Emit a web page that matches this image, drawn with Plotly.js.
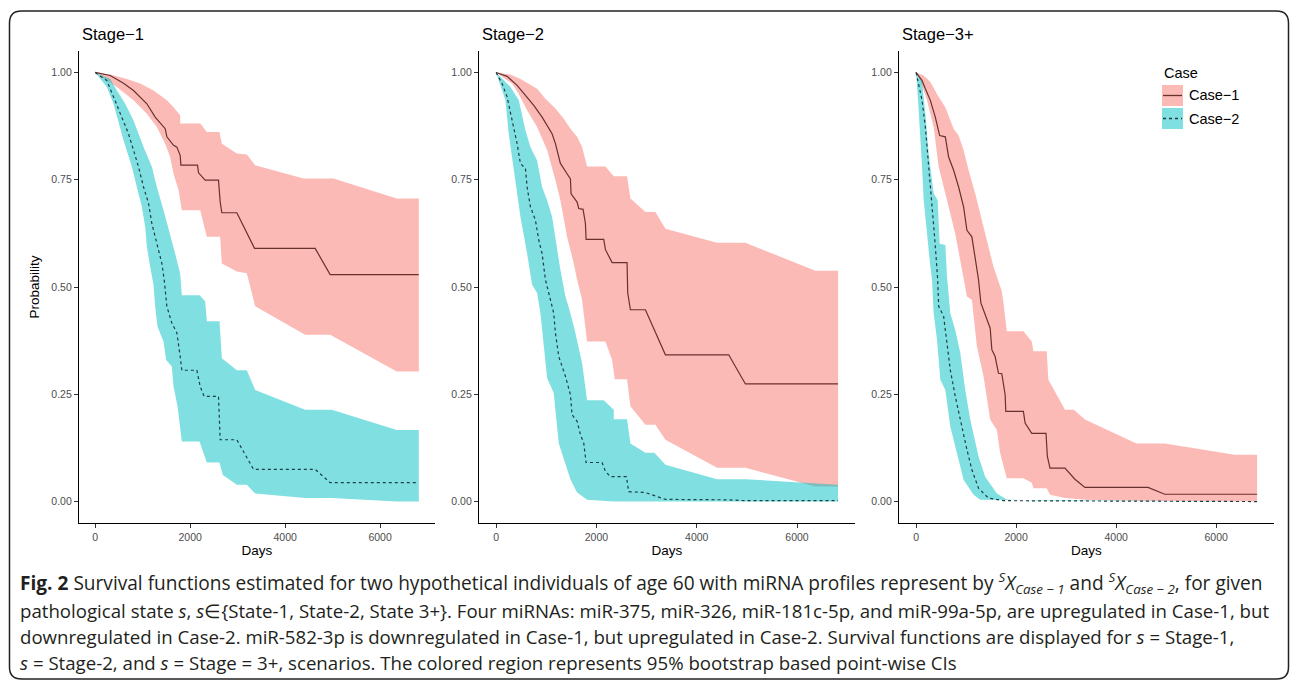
<!DOCTYPE html>
<html>
<head>
<meta charset="utf-8">
<script src="https://cdn.plot.ly/plotly-3.0.1.min.js"></script>
<style>html,body{margin:0;padding:0;background:#fff;}#chart{width:1290px;height:681px;}</style>
</head>
<body>
<div id="chart"></div>
<script>
// ---------------- DATA ----------------
const panelTitles = ["Stage\u22121", "Stage\u22122", "Stage\u22123+"];
const caseNames = ["Case\u22121", "Case\u22122"];
const xTicks = [0, 2000, 4000, 6000];
const yTicks = [0, 0.25, 0.5, 0.75, 1];

// Stage-1, Case-1
const s1c1Days = [0,316,597,807,1088,1263,1474,1509,1650,1720,1790,1804,2155,2176,2316,2597,2632,2667,2983,3355,4632,4948,6815];
const s1c1Surv = [1,0.993,0.975,0.958,0.927,0.896,0.869,0.85,0.83,0.826,0.807,0.784,0.784,0.766,0.749,0.749,0.698,0.673,0.673,0.59,0.59,0.529,0.529];
const s1c1UpDays = [0,316,667,948,1228,1509,1650,1790,1790,2211,2351,2618,2667,2983,3193,3369,4386,5018,6351,6815];
const s1c1Up = [1,0.995,0.985,0.974,0.958,0.935,0.919,0.9,0.881,0.881,0.861,0.861,0.834,0.811,0.809,0.784,0.753,0.753,0.706,0.706];
const s1c1LoDays = [0,456,807,1088,1298,1474,1579,1650,1755,1825,2211,2351,2632,2667,2983,3193,3334,3369,4421,4948,6351,6815];
const s1c1Lo = [1,0.966,0.935,0.904,0.873,0.834,0.803,0.764,0.726,0.679,0.679,0.617,0.617,0.555,0.536,0.532,0.47,0.455,0.389,0.389,0.303,0.303];

// Stage-1, Case-2
const s1c2Days = [0,246,386,526,702,807,912,1018,1123,1193,1298,1404,1453,1509,1614,1720,1790,1825,2141,2211,2295,2597,2632,2983,3334,4632,4948,6815];
const s1c2Surv = [1,0.981,0.943,0.904,0.857,0.819,0.78,0.733,0.695,0.648,0.602,0.555,0.517,0.455,0.416,0.393,0.338,0.306,0.306,0.268,0.245,0.245,0.144,0.144,0.075,0.075,0.044,0.044];
const s1c2UpDays = [0,316,456,632,807,1018,1193,1298,1439,1579,1684,1790,1825,2197,2316,2351,2618,2667,2983,3193,3369,4421,4983,6351,6815];
const s1c2Up = [1,0.985,0.958,0.927,0.888,0.826,0.78,0.733,0.679,0.624,0.578,0.531,0.481,0.481,0.467,0.42,0.42,0.334,0.306,0.306,0.26,0.214,0.214,0.167,0.167];
const s1c2LoDays = [0,246,386,491,597,772,877,983,1053,1088,1158,1228,1263,1312,1439,1495,1614,1650,1734,1825,2197,2351,2618,2688,2983,3193,3369,4421,4983,6351,6815];
const s1c2Lo = [1,0.966,0.927,0.888,0.842,0.78,0.733,0.687,0.64,0.594,0.547,0.505,0.455,0.408,0.373,0.33,0.315,0.268,0.222,0.14,0.14,0.091,0.091,0.062,0.039,0.039,0.019,0.008,0.008,0,0];

// Stage-2, Case-1
const s2c1Days = [0,219,419,585,751,917,1050,1116,1183,1282,1415,1482,1495,1615,1648,1734,1781,1794,2146,2180,2313,2611,2625,2678,2977,3376,4638,4971,6818];
const s2c1Surv = [1,0.991,0.97,0.947,0.923,0.896,0.869,0.857,0.834,0.788,0.764,0.752,0.717,0.698,0.683,0.681,0.648,0.611,0.611,0.587,0.557,0.557,0.486,0.447,0.447,0.342,0.342,0.274,0.274];
const s2c1UpDays = [0,286,485,684,817,983,1183,1349,1482,1615,1714,1814,2180,2346,2611,2678,2977,3176,3376,4406,4971,6366,6818];
const s2c1Up = [1,0.995,0.985,0.97,0.962,0.939,0.916,0.892,0.869,0.85,0.826,0.781,0.781,0.758,0.758,0.706,0.675,0.675,0.636,0.603,0.603,0.538,0.538];
const s2c1LoDays = [0,319,452,618,817,1017,1183,1282,1349,1415,1548,1615,1714,1747,1814,2180,2313,2366,2611,2678,2977,3176,3376,4406,4971,6366,6818];
const s2c1Lo = [1,0.974,0.95,0.912,0.873,0.819,0.749,0.702,0.664,0.617,0.555,0.517,0.47,0.439,0.373,0.373,0.33,0.285,0.285,0.222,0.179,0.179,0.144,0.079,0.079,0.035,0.035];

// Stage-2, Case-2
const s2c2Days = [0,120,219,319,419,485,585,618,684,784,851,917,983,1050,1149,1183,1249,1382,1482,1515,1615,1681,1748,1794,2113,2180,2279,2598,2645,2977,3376,4638,4971,6818];
const s2c2Surv = [1,0.974,0.943,0.888,0.834,0.788,0.776,0.733,0.687,0.656,0.609,0.578,0.517,0.486,0.439,0.393,0.338,0.292,0.249,0.202,0.187,0.156,0.136,0.091,0.091,0.07,0.058,0.058,0.023,0.021,0.005,0.004,0.002,0.002];
const s2c2UpDays = [0,286,452,585,684,817,917,1017,1116,1183,1282,1382,1482,1581,1714,1814,2146,2346,2346,2611,2678,2977,3156,3376,4406,4971,6366,6818];
const s2c2Up = [1,0.966,0.935,0.865,0.826,0.795,0.733,0.702,0.664,0.609,0.54,0.478,0.439,0.393,0.323,0.236,0.236,0.214,0.192,0.192,0.135,0.114,0.114,0.086,0.052,0.052,0.041,0.039];
const s2c2LoDays = [0,186,252,352,485,618,718,817,884,1017,1149,1249,1349,1482,1615,1814,2346,6818];
const s2c2Lo = [1,0.935,0.857,0.78,0.664,0.578,0.505,0.486,0.439,0.288,0.253,0.136,0.097,0.052,0.021,0.004,0,0];

// Stage-3+, Case-1
const s3c1Days = [0,120,186,286,385,472,585,651,751,851,950,1017,1116,1183,1249,1296,1349,1429,1482,1515,1581,1648,1714,1781,1794,2146,2180,2313,2598,2625,2678,2977,3176,3376,4638,4971,6818];
const s3c1Surv = [1,0.981,0.962,0.935,0.896,0.853,0.85,0.803,0.772,0.733,0.687,0.632,0.617,0.571,0.517,0.463,0.447,0.424,0.404,0.354,0.338,0.299,0.298,0.249,0.21,0.21,0.183,0.159,0.159,0.105,0.078,0.078,0.052,0.033,0.033,0.017,0.017];
const s3c1UpDays = [0,153,286,452,585,751,851,950,1050,1183,1349,1548,1714,1748,1814,2146,2313,2346,2611,2645,2977,3156,3376,4406,4971,6366,6818];
const s3c1Up = [1,0.993,0.978,0.943,0.919,0.869,0.853,0.819,0.772,0.718,0.64,0.547,0.49,0.463,0.397,0.397,0.373,0.35,0.35,0.284,0.214,0.214,0.191,0.135,0.135,0.109,0.109];
const s3c1LoDays = [0,86,219,352,452,618,784,917,983,1017,1116,1216,1349,1482,1615,1681,1814,2146,2313,2346,2611,2678,2977,3376,4406,6818];
const s3c1Lo = [1,0.981,0.935,0.873,0.78,0.702,0.624,0.54,0.5,0.478,0.47,0.362,0.292,0.191,0.167,0.113,0.054,0.054,0.044,0.031,0.031,0.016,0.008,0.004,0.002,0];

// Stage-3+, Case-2
const s3c2Days = [0,53,120,186,233,272,319,365,405,432,452,551,618,684,784,884,1017,1116,1249,1449,1748,6818];
const s3c2Surv = [1,0.974,0.935,0.873,0.811,0.749,0.687,0.625,0.563,0.517,0.455,0.432,0.369,0.307,0.245,0.191,0.121,0.074,0.031,0.008,0.002,0];
const s3c2UpDays = [0,120,186,252,352,432,472,585,618,684,784,884,983,1083,1249,1382,1615,1814,2346,6818];
const s3c2Up = [1,0.978,0.904,0.811,0.718,0.702,0.601,0.598,0.525,0.439,0.4,0.346,0.26,0.191,0.105,0.058,0.019,0.005,0.002,0];
const s3c2LoDays = [0,40,86,120,153,219,286,319,352,419,485,585,684,817,950,1149,1282,6818];
const s3c2Lo = [1,0.935,0.857,0.78,0.702,0.625,0.547,0.517,0.439,0.377,0.284,0.26,0.175,0.113,0.051,0.016,0.004,0];

// ---------------- BUILD ----------------
const panels = [
  {c1:[s1c1Days,s1c1Surv,s1c1UpDays,s1c1Up,s1c1LoDays,s1c1Lo], c2:[s1c2Days,s1c2Surv,s1c2UpDays,s1c2Up,s1c2LoDays,s1c2Lo]},
  {c1:[s2c1Days,s2c1Surv,s2c1UpDays,s2c1Up,s2c1LoDays,s2c1Lo], c2:[s2c2Days,s2c2Surv,s2c2UpDays,s2c2Up,s2c2LoDays,s2c2Lo]},
  {c1:[s3c1Days,s3c1Surv,s3c1UpDays,s3c1Up,s3c1LoDays,s3c1Lo], c2:[s3c2Days,s3c2Surv,s3c2UpDays,s3c2Up,s3c2LoDays,s3c2Lo]}
];

const W = 1290, H = 681;
const fillCols = ["rgba(248,118,109,0.5)", "rgba(0,191,196,0.5)"];
const lineCols = ["rgb(105,48,48)", "rgb(28,62,70)"];
const lineDash = ["solid", "3px,3px"];
const xDomPx = [[79,435],[479,855],[899,1274]];
const yDomPx = [51, 523];
const AXF = "Liberation Sans, Arial, sans-serif";

const traces = [];
panels.forEach((p, i) => {
  const ax = i === 0 ? "" : String(i + 1);
  const xa = "x" + ax, ya = "y" + ax;
  [p.c1, p.c2].forEach((d, k) => {
    const polyX = d[2].concat(d[4].slice().reverse());
    const polyY = d[3].concat(d[5].slice().reverse());
    traces.push({x: polyX, y: polyY, xaxis: xa, yaxis: ya, type: "scatter", mode: "lines",
      fill: "toself", fillcolor: fillCols[k], line: {width: 0, color: fillCols[k]},
      hoverinfo: "skip", showlegend: false});
  });
  [p.c1, p.c2].forEach((d, k) => {
    traces.push({x: d[0], y: d[1], xaxis: xa, yaxis: ya, type: "scatter", mode: "lines",
      line: {color: lineCols[k], width: 1.2, dash: lineDash[k]},
      name: caseNames[k], showlegend: false});
  });
});

const layout = {
  width: W, height: H, margin: {l: 0, r: 0, t: 0, b: 0},
  paper_bgcolor: "#fff", plot_bgcolor: "#fff",
  showlegend: false, annotations: [], shapes: []
};
for (let i = 0; i < 3; i++) {
  const ax = i === 0 ? "" : String(i + 1);
  layout["xaxis" + ax] = {
    domain: [xDomPx[i][0] / W, xDomPx[i][1] / W], anchor: "y" + ax,
    range: [-341, 7156], tickvals: xTicks, ticktext: xTicks.map(String),
    showline: true, linecolor: "#000", linewidth: 1.1, showgrid: false, zeroline: false,
    ticks: "outside", ticklen: 4, tickcolor: "#333", tickwidth: 1,
    tickfont: {family: AXF, size: 10.5, color: "#4d4d4d"},
    title: {text: "Days", font: {family: AXF, size: 13.5, color: "#000"}, standoff: 3}
  };
  const ya = {
    domain: [1 - yDomPx[1] / H, 1 - yDomPx[0] / H], anchor: "x" + ax,
    range: [-0.05, 1.05], tickvals: yTicks, ticktext: yTicks.map(v => v.toFixed(2)),
    showline: true, linecolor: "#000", linewidth: 1.1, showgrid: false, zeroline: false,
    ticks: "outside", ticklen: 4, tickcolor: "#333", tickwidth: 1,
    tickfont: {family: AXF, size: 10.5, color: "#4d4d4d"}
  };
  if (i === 0) ya.title = {text: "Probability", font: {family: AXF, size: 13.5, color: "#000"}, standoff: 8};
  layout["yaxis" + ax] = ya;
  layout.annotations.push({xref: "paper", yref: "paper", x: (xDomPx[i][0] + 1) / W, y: 1 - 34 / H,
    xanchor: "left", yanchor: "middle", showarrow: false, text: panelTitles[i],
    font: {family: AXF, size: 16.5, color: "#000"}});
}

// legend (drawn manually)
const legX = 1162, legKeyW = 21;
layout.annotations.push({xref: "paper", yref: "paper", x: legX / W, y: 1 - 73 / H, xanchor: "left", yanchor: "middle",
  showarrow: false, text: "Case", font: {family: AXF, size: 14.5, color: "#000"}});
[[85, 106], [108, 129]].forEach((yy, k) => {
  layout.shapes.push({type: "rect", xref: "paper", yref: "paper", x0: legX / W, x1: (legX + legKeyW) / W,
    y0: 1 - yy[1] / H, y1: 1 - yy[0] / H, fillcolor: fillCols[k], line: {width: 0}});
  const ym = 1 - (yy[0] + yy[1]) / 2 / H;
  layout.shapes.push({type: "line", xref: "paper", yref: "paper", x0: (legX + 1) / W, x1: (legX + legKeyW - 1) / W,
    y0: ym, y1: ym, line: {color: lineCols[k], width: 1.3, dash: k ? "dot" : "solid"}});
  layout.annotations.push({xref: "paper", yref: "paper", x: (legX + legKeyW + 4) / W, y: ym, xanchor: "left", yanchor: "middle",
    showarrow: false, text: caseNames[k], font: {family: AXF, size: 14.5, color: "#000"}});
});

// rounded frame
const fx0 = 9.5, fy0 = 11, fx1 = 1288.5, fy1 = 679, r = 12;
const P = (x, y) => (x / W).toFixed(5) + "," + (1 - y / H).toFixed(5);
layout.shapes.push({type: "path", xref: "paper", yref: "paper", layer: "below",
  path: "M" + P(fx0 + r, fy0) + " L" + P(fx1 - r, fy0) + " Q" + P(fx1, fy0) + " " + P(fx1, fy0 + r) +
        " L" + P(fx1, fy1 - r) + " Q" + P(fx1, fy1) + " " + P(fx1 - r, fy1) +
        " L" + P(fx0 + r, fy1) + " Q" + P(fx0, fy1) + " " + P(fx0, fy1 - r) +
        " L" + P(fx0, fy0 + r) + " Q" + P(fx0, fy0) + " " + P(fx0 + r, fy0) + " Z",
  line: {color: "#222", width: 1.5}, fillcolor: "rgba(0,0,0,0)"});

// caption
const CF = "'Open Sans', Lato, sans-serif";
const capLines = [
  "<b>Fig. 2</b> Survival functions estimated for two hypothetical individuals of age 60 with miRNA profiles represent by <i><sup>S</sup>X<sub>Case \u2212 1</sub></i> and <i><sup>S</sup>X<sub>Case \u2212 2</sub></i>, for given",
  "pathological state <i>s</i>, <i>s</i>\u2208{State-1, State-2, State 3+}. Four miRNAs: miR-375, miR-326, miR-181c-5p, and miR-99a-5p, are upregulated in Case-1, but",
  "downregulated in Case-2. miR-582-3p is downregulated in Case-1, but upregulated in Case-2. Survival functions are displayed for <i>s</i> = Stage-1,",
  "<i>s</i> = Stage-2, and <i>s</i> = Stage = 3+, scenarios. The colored region represents 95% bootstrap based point-wise CIs"
];
const capY = [583, 610, 636, 662];
const capSize = [19.1, 18.65, 18.65, 18.65];
capLines.forEach((t, i) => {
  layout.annotations.push({xref: "paper", yref: "paper", x: 18 / W, y: 1 - capY[i] / H, xanchor: "left", yanchor: "middle",
    showarrow: false, text: t, font: {family: CF, size: capSize[i], color: "#231f20"}});
});

Plotly.newPlot("chart", traces, layout, {displayModeBar: false, staticPlot: true});
</script>
</body>
</html>
